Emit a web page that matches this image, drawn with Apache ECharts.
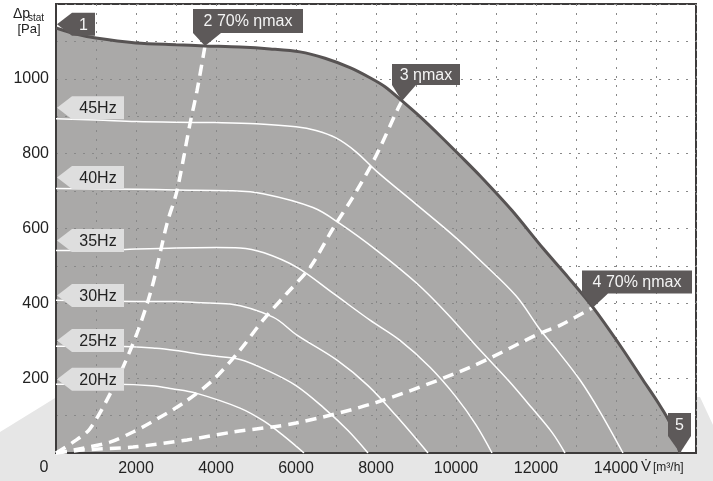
<!DOCTYPE html>
<html><head><meta charset="utf-8">
<script src="https://cdn.jsdelivr.net/npm/echarts@6/dist/echarts.min.js"></script>
<style>html,body{margin:0;padding:0;background:#fff}#c{width:713px;height:481px}</style>
</head><body><div id="c"></div>
<script>
// ---- data (flow m3/h, static pressure Pa) ----
const xTickLabels = [2000, 4000, 6000, 8000, 10000, 12000, 14000];
const yTickLabels = [200, 400, 600, 800, 1000];

const maxCurve = [[0,1136],[500,1120],[1000,1109],[2000,1096],[3000,1091],[3725,1088],[4600,1085],[5350,1080],[6100,1072],[6725,1055],[7350,1030],[7850,1003],[8225,979],[8650,941],[9100,899],[9600,848],[10100,795],[10600,741],[11400,648],[12175,547],[12800,470],[13425,389],[14150,280],[14675,195],[15050,135],[15350,80],[15600,0]];

const hz45 = [[0,893],[1000,890],[2000,886],[3000,884],[4000,883],[5000,880],[6000,872],[6500,862],[7000,842],[7500,805],[8025,752],[9000,665],[10000,575],[10600,515],[11500,420],[12100,330],[12525,275],[13100,195],[13600,110],[14175,0]];
const hz40 = [[0,707],[2000,705],[3000,703],[4350,701],[5175,693],[6425,656],[7100,613],[8025,541],[9025,453],[9775,373],[10600,275],[11300,195],[11900,120],[12400,55],[12725,0]];
const hz35 = [[0,541],[1000,541],[2000,545],[3000,548],[4000,549],[4600,548],[5200,535],[6025,496],[6925,427],[7850,355],[8600,301],[9350,229],[10000,150],[10500,75],[10900,0]];
const hz30 = [[0,408],[2000,405],[3000,405],[3500,402],[4350,398],[5425,363],[6025,315],[7025,248],[7800,180],[8500,100],[9300,0]];
const hz25 = [[0,285],[1500,285],[2500,280],[3000,274],[3600,264],[3975,259],[4600,250],[5275,221],[6000,180],[6700,120],[7300,60],[7800,0]];
const hz20 = [[0,184],[1500,184],[2400,180],[2900,172],[3500,160],[4600,120],[5200,85],[5700,45],[6200,0]];

const sys70left = [[0,0],[400,27],[850,65],[1525,195],[2025,320],[2400,443],[2775,613],[3025,701],[3350,880],[3525,968],[3725,1088]];
const sysEtaMax = [[0,0],[675,13],[1350,29],[1925,56],[2350,80],[3175,133],[3925,195],[4600,275],[5175,355],[5775,427],[6350,496],[6925,600],[7400,680],[7850,763],[8100,816],[8525,915],[8650,941]];
const sys70right = [[0,0],[675,8],[1925,16],[3275,35],[4425,56],[6000,80],[8000,135],[10350,229],[12100,320],[12600,341],[13425,389]];

const hzNames = ['45Hz','40Hz','35Hz','30Hz','25Hz','20Hz'];
const hzTagValues = [923, 736, 568, 421, 301, 197];
const pointNames = ['1','2 70% ηmax','3 ηmax','4 70% ηmax','5'];
const pointValues = [[0,1146],[3725,1088],[8650,941],[13425,389],[15600,0]];

// ---- chart ----
const FONT = '"Liberation Sans", Arial, sans-serif';
const chart = echarts.init(document.getElementById('c'), null, {renderer:'canvas'});

function hzLine(data){
  return {type:'line', data, smooth:0.35, symbol:'none', z:3,
    lineStyle:{color:'#ffffff', width:1.5}};
}
function sysLine(data){
  return {type:'line', data, smooth:0.3, symbol:'none', z:3,
    lineStyle:{color:'#ffffff', width:3.5, type:[11,7], cap:'butt'}};
}

const option = {
  animation:false,
  backgroundColor:'transparent',
  grid:{left:56, right:17, top:4, bottom:28, show:true, backgroundColor:'#ffffff', borderColor:'#3d3b3b', borderWidth:2, z:0},
  xAxis:{type:'value', min:0, max:16000, interval:1000, z:2,
    axisLine:{show:true, onZero:false, lineStyle:{color:'#3d3b3b', width:2}},
    axisTick:{show:false},
    axisLabel:{margin:8, color:'#222', fontSize:16, fontFamily:FONT,
      formatter:v => xTickLabels.includes(v) ? String(v) : ''},
    splitLine:{show:true, lineStyle:{color:'#888888', width:1, type:[2,7]}}},
  yAxis:{type:'value', min:0, max:1200, interval:100, z:2,
    axisLine:{show:true, onZero:false, lineStyle:{color:'#3d3b3b', width:2}},
    axisTick:{show:false},
    axisLabel:{margin:7, color:'#222', fontSize:16, fontFamily:FONT,
      formatter:v => yTickLabels.includes(v) ? String(v) : ''},
    splitLine:{show:true, lineStyle:{color:'#888888', width:1, type:[2,7]}}},
  series:[
    {type:'line', data:maxCurve, smooth:0.3, symbol:'none', z:1,
      lineStyle:{width:0}, areaStyle:{color:'#aaa9a8', opacity:1}},
    hzLine(hz45), hzLine(hz40), hzLine(hz35), hzLine(hz30), hzLine(hz25), hzLine(hz20),
    sysLine(sys70left), sysLine(sysEtaMax), sysLine(sys70right),
    {type:'line', data:maxCurve, smooth:0.3, symbol:'none', z:4,
      lineStyle:{color:'#575353', width:3}}
  ]
};
chart.setOption(option);

// ---- annotations positioned through the chart's scales ----
const px = v => chart.convertToPixel({gridIndex:0}, v);
const els = [];
// background shape
els.push({type:'polygon', z:-1, silent:true,
  shape:{points:[[0,432],[60,395],[700,397],[713,425],[713,481],[0,481]]},
  style:{fill:'#e6e6e6'}});

function leftTag(tip, w, h, text, fill, color, fs){
  const [x,y] = tip, a = 15;
  els.push({type:'polygon', z:10, shape:{points:[[x,y],[x+a,y-h/2],[x+a+w,y-h/2],[x+a+w,y+h/2],[x+a,y+h/2]]}, style:{fill}});
  els.push({type:'text', z:11, x:x+a+w/2, y:y+1, style:{text, fill:color, font:fs+'px '+FONT, align:'center', verticalAlign:'middle'}});
}
function downTag(tip, dx, w, h, up, triW, text){
  const [x,y] = tip, l = x+dx, t = y-up;
  els.push({type:'polygon', z:10, shape:{points:[[l,t],[l+w,t],[l+w,t+h],[l+triW,t+h],[x,y],[l,t+h]]}, style:{fill:'#5d5959'}});
  els.push({type:'text', z:11, x:l+w/2, y:t+h/2+1, style:{text, fill:'#f4f4f4', font:'16px '+FONT, align:'center', verticalAlign:'middle'}});
}

hzNames.forEach((n,i)=>{
  const p = px([0, hzTagValues[i]]);
  leftTag([p[0]+1, p[1]], 52, 23, n, '#dedede', '#222', 16);
});
const p1 = px(pointValues[0]);
leftTag([p1[0]+1, p1[1]], 23, 23, pointNames[0], '#5d5959', '#f4f4f4', 16);
downTag(px(pointValues[1]), -12, 110, 24, 37, 28, pointNames[1]);
downTag(px(pointValues[2]), -10, 68, 21, 37, 24, pointNames[2]);
downTag(px(pointValues[3]), -11, 110, 23, 37, 26, pointNames[3]);
downTag(px(pointValues[4]), -12, 23, 23, 40, 23, pointNames[4]);

// axis titles
els.push({type:'text', z:11, x:13, y:14, style:{text:'Δp', fill:'#222', font:'14px '+FONT, verticalAlign:'middle'}});
els.push({type:'text', z:11, x:28, y:18, style:{text:'stat', fill:'#222', font:'10px '+FONT, verticalAlign:'middle'}});
els.push({type:'text', z:11, x:29, y:29, style:{text:'[Pa]', fill:'#222', font:'13px '+FONT, align:'center', verticalAlign:'middle'}});
const p0 = px([0,0]);
els.push({type:'text', z:11, x:p0[0]-12, y:p0[1]+15, style:{text:'0', fill:'#222', font:'16px '+FONT, align:'center', verticalAlign:'middle'}});
els.push({type:'text', z:11, x:641, y:467, style:{text:'V\u0307', fill:'#222', font:'15px '+FONT, verticalAlign:'middle'}});
els.push({type:'text', z:11, x:653, y:468, style:{text:'[m³/h]', fill:'#222', font:'12px '+FONT, verticalAlign:'middle'}});

chart.setOption({graphic:{elements:els}});
</script>
</body></html>
